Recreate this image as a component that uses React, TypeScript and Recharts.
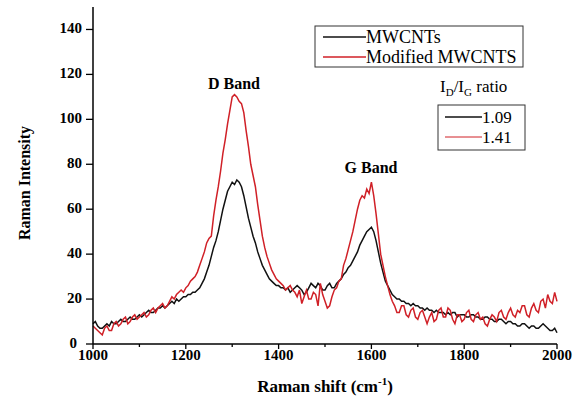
import React from "react";
import { LineChart, Line, XAxis, YAxis } from "recharts";

// Raman shift (cm-1), 5 cm-1 steps
const shifts = [
  1000, 1005, 1010, 1015, 1020, 1025, 1030, 1035, 1040, 1045, 1050, 1055, 1060, 1065, 1070, 1075, 1080, 1085, 1090, 1095,
  1100, 1105, 1110, 1115, 1120, 1125, 1130, 1135, 1140, 1145, 1150, 1155, 1160, 1165, 1170, 1175, 1180, 1185, 1190, 1195,
  1200, 1205, 1210, 1215, 1220, 1225, 1230, 1235, 1240, 1245, 1250, 1255, 1260, 1265, 1270, 1275, 1280, 1285, 1290, 1295,
  1300, 1305, 1310, 1315, 1320, 1325, 1330, 1335, 1340, 1345, 1350, 1355, 1360, 1365, 1370, 1375, 1380, 1385, 1390, 1395,
  1400, 1405, 1410, 1415, 1420, 1425, 1430, 1435, 1440, 1445, 1450, 1455, 1460, 1465, 1470, 1475, 1480, 1485, 1490, 1495,
  1500, 1505, 1510, 1515, 1520, 1525, 1530, 1535, 1540, 1545, 1550, 1555, 1560, 1565, 1570, 1575, 1580, 1585, 1590, 1595,
  1600, 1605, 1610, 1615, 1620, 1625, 1630, 1635, 1640, 1645, 1650, 1655, 1660, 1665, 1670, 1675, 1680, 1685, 1690, 1695,
  1700, 1705, 1710, 1715, 1720, 1725, 1730, 1735, 1740, 1745, 1750, 1755, 1760, 1765, 1770, 1775, 1780, 1785, 1790, 1795,
  1800, 1805, 1810, 1815, 1820, 1825, 1830, 1835, 1840, 1845, 1850, 1855, 1860, 1865, 1870, 1875, 1880, 1885, 1890, 1895,
  1900, 1905, 1910, 1915, 1920, 1925, 1930, 1935, 1940, 1945, 1950, 1955, 1960, 1965, 1970, 1975, 1980, 1985, 1990, 1995,
  2000,
];

const mwcnts = [
  9, 10, 8, 7, 7, 8, 9, 8, 10, 9, 9, 10, 11, 10, 10, 11, 12, 11, 11, 12,
  13, 12, 13, 14, 15, 14, 14, 15, 16, 16, 17, 16, 17, 18, 19, 18, 20, 19, 20, 21,
  21, 22, 22, 23, 23, 24, 25, 27, 29, 32, 35, 39, 43, 46, 50, 55, 60, 64, 68, 70,
  72, 71, 73, 72, 70, 66, 61, 56, 52, 48, 45, 41, 38, 35, 33, 31, 29, 28, 27, 26,
  26, 25, 25, 24, 25, 23, 24, 25, 26, 25, 24, 22, 23, 25, 27, 26, 25, 27, 26, 24,
  24, 26, 27, 25, 25, 27, 28, 29, 31, 32, 34, 35, 37, 39, 41, 44, 46, 48, 50, 51,
  52, 50, 46, 41, 36, 32, 28, 26, 24, 22, 21, 20, 20, 19, 19, 18, 18, 17, 18, 17,
  17, 16, 16, 15, 16, 15, 15, 14, 15, 14, 14, 14, 13, 14, 13, 14, 14, 12, 13, 13,
  13, 12, 12, 13, 13, 12, 12, 11, 11, 12, 12, 11, 11, 10, 10, 11, 11, 10, 9, 10,
  10, 9, 9, 8, 8, 9, 9, 8, 7, 8, 8, 7, 7, 8, 9, 8, 7, 6, 6, 7,
  5,
];

const modified = [
  8, 7, 6, 5, 4, 7, 8, 6, 6, 9, 10, 8, 9, 11, 12, 9, 10, 12, 13, 11,
  12, 13, 14, 12, 13, 15, 16, 14, 16, 17, 18, 16, 17, 19, 21, 20, 22, 23, 24, 23,
  25, 26, 28, 29, 30, 32, 35, 38, 41, 45, 47, 48, 57, 64, 70, 77, 85, 91, 98, 104,
  110, 111, 110, 108, 107, 103, 95, 88, 80, 75, 70, 62, 55, 48, 43, 39, 36, 33, 31, 29,
  28, 27, 26, 24, 25, 26, 24, 23, 21, 24, 18, 21, 24, 20, 20, 23, 22, 17, 27, 22,
  19, 16, 17, 21, 24, 25, 28, 29, 35, 38, 42, 46, 50, 55, 60, 64, 66, 65, 69, 67,
  72, 66, 58, 49, 40, 35, 30, 26, 22, 19, 17, 14, 14, 17, 17, 13, 12, 15, 16, 12,
  11, 14, 15, 12, 9, 12, 14, 10, 11, 15, 16, 12, 12, 16, 15, 11, 9, 13, 13, 10,
  11, 14, 15, 11, 10, 13, 14, 11, 12, 9, 8, 11, 13, 12, 10, 14, 15, 12, 11, 14,
  16, 13, 12, 15, 14, 17, 17, 13, 12, 16, 18, 15, 14, 19, 20, 16, 22, 19, 18, 23,
  19,
];

const xTicks = [1000, 1100, 1200, 1300, 1400, 1500, 1600, 1700, 1800, 1900, 2000];
const yTicks = [0, 10, 20, 30, 40, 50, 60, 70, 80, 90, 100, 110, 120, 130, 140];

const seriesNames = ["MWCNTs", "Modified MWCNTS"];
const ratios = ["1.09", "1.41"];

const data = shifts.map((s, i) => ({ shift: s, mwcnts: mwcnts[i], modified: modified[i] }));

const FONT = "'Liberation Serif', 'Times New Roman', serif";
const BLACK = "#111";
const RED = "#d02027";

const XTick = (props: any) => {
  const { x, y, payload } = props;
  const major = payload.value % 200 === 0;
  return (
    <g>
      <line x1={x} y1={y} x2={x} y2={y + (major ? 5 : 3)} stroke="#000" strokeWidth={1.3} />
      {major && (
        <text x={x} y={y + 16} textAnchor="middle" style={{ fontFamily: FONT }} fontWeight="bold" fontSize={15} fill="#000">
          {payload.value}
        </text>
      )}
    </g>
  );
};

const YTick = (props: any) => {
  const { x, y, payload } = props;
  const major = payload.value % 20 === 0;
  // keep the "0" label clear of the "1000" label below it
  const dx = payload.value === 0 ? 16 : 11;
  return (
    <g>
      <line x1={x} y1={y} x2={x - (major ? 7 : 3)} y2={y} stroke="#000" strokeWidth={1.3} />
      {major && (
        <text x={x - dx} y={y + 4} textAnchor="end" style={{ fontFamily: FONT }} fontWeight="bold" fontSize={15} fill="#000">
          {payload.value}
        </text>
      )}
    </g>
  );
};

export default function App() {
  return (
    <div style={{ position: "absolute", left: 0, top: 0, width: 576, height: 403, background: "#fff", fontFamily: FONT }}>
      <LineChart width={576} height={403} data={data} margin={{ top: 7, right: 19, left: 33, bottom: 29 }}>
        <XAxis
          dataKey="shift"
          type="number"
          domain={[1000, 2000]}
          ticks={xTicks}
          tick={<XTick />}
          tickLine={false}
          tickSize={0}
          tickMargin={0}
          height={30}
          axisLine={{ stroke: "#000", strokeWidth: 1.5 }}
        />
        <XAxis
          xAxisId="top"
          orientation="top"
          dataKey="shift"
          type="number"
          domain={[1000, 2000]}
          tick={false}
          tickLine={false}
          height={0}
          axisLine={{ stroke: "#000", strokeWidth: 1.5 }}
        />
        <YAxis
          type="number"
          domain={[0, 150]}
          ticks={yTicks}
          tick={<YTick />}
          tickLine={false}
          tickSize={0}
          tickMargin={0}
          width={60}
          axisLine={{ stroke: "#000", strokeWidth: 1.5 }}
        />
        <YAxis
          yAxisId="right"
          orientation="right"
          type="number"
          domain={[0, 150]}
          tick={false}
          tickLine={false}
          width={0}
          axisLine={{ stroke: "#000", strokeWidth: 1.5 }}
        />
        <Line type="linear" dataKey="mwcnts" stroke={BLACK} strokeWidth={1.5} dot={false} isAnimationActive={false} />
        <Line type="linear" dataKey="modified" stroke={RED} strokeWidth={1.5} dot={false} isAnimationActive={false} />
      </LineChart>

      <svg width={576} height={403} style={{ position: "absolute", left: 0, top: 0, pointerEvents: "none", fontFamily: FONT }}>
        {/* axis titles */}
        <text transform="translate(30,183) rotate(-90)" textAnchor="middle" fontWeight="bold" fontSize={16} fill="#000">
          Raman Intensity
        </text>
        <text x={325} y={392} textAnchor="middle" fontWeight="bold" fontSize={17} fill="#000">
          Raman shift (cm<tspan dy={-7} fontSize={11}>-1</tspan>
          <tspan dy={7}>)</tspan>
        </text>

        {/* band labels */}
        <text x={234} y={89} textAnchor="middle" fontWeight="bold" fontSize={16} fill="#000">
          D Band
        </text>
        <text x={371} y={173} textAnchor="middle" fontWeight="bold" fontSize={16} fill="#000">
          G Band
        </text>

        {/* series legend */}
        <rect x={315} y={26} width={208} height={41} fill="#fff" stroke="#333" strokeWidth={1} />
        <line x1={323} y1={37} x2={366} y2={37} stroke={BLACK} strokeWidth={1.5} />
        <line x1={323} y1={57} x2={366} y2={57} stroke={RED} strokeWidth={1.5} />
        <text x={366} y={43} fontSize={18} fill="#000">{seriesNames[0]}</text>
        <text x={366} y={63} fontSize={18} fill="#000">{seriesNames[1]}</text>

        {/* ratio legend */}
        <text x={440} y={92} fontSize={17} fill="#000">
          I<tspan dy={4} fontSize={11}>D</tspan>
          <tspan dy={-4}>/I</tspan>
          <tspan dy={4} fontSize={11}>G</tspan>
          <tspan dy={-4}> ratio</tspan>
        </text>
        <rect x={438} y={105} width={87} height={45} fill="#fff" stroke="#333" strokeWidth={1} />
        <line x1={445} y1={117} x2={482} y2={117} stroke={BLACK} strokeWidth={1.5} />
        <line x1={445} y1={137} x2={482} y2={137} stroke={RED} strokeWidth={1} />
        <text x={482} y={123} fontSize={17} fill="#000">{ratios[0]}</text>
        <text x={482} y={143} fontSize={17} fill="#000">{ratios[1]}</text>
      </svg>
    </div>
  );
}
